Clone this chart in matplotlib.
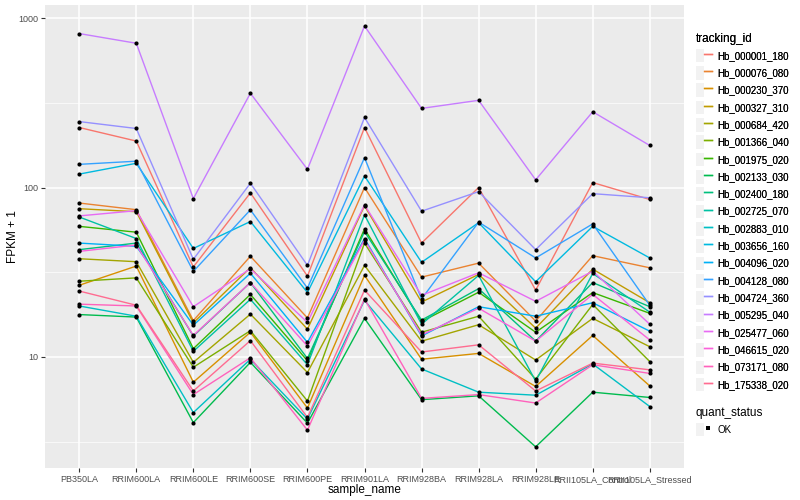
import numpy as np
import pandas as pd
import matplotlib
matplotlib.use('Agg')
import matplotlib.pyplot as plt
from matplotlib.lines import Line2D
from matplotlib.patches import Rectangle
from matplotlib.legend_handler import HandlerTuple

plt.rcParams['font.family'] = ['Liberation Sans', 'DejaVu Sans']

samples = ['PB350LA', 'RRIM600LA', 'RRIM600LE', 'RRIM600SE', 'RRIM600PE', 'RRIM901LA',
           'RRIM928BA', 'RRIM928LA', 'RRIM928LE', 'RRII105LA_Control', 'RRII105LA_Stressed']

tracking_ids = ['Hb_000001_180', 'Hb_000076_080', 'Hb_000230_370', 'Hb_000327_310', 'Hb_000684_420',
                'Hb_001366_040', 'Hb_001975_020', 'Hb_002133_030', 'Hb_002400_180', 'Hb_002725_070',
                'Hb_002883_010', 'Hb_003656_160', 'Hb_004096_020', 'Hb_004128_080', 'Hb_004724_360',
                'Hb_005295_040', 'Hb_025477_060', 'Hb_046615_020', 'Hb_073171_080', 'Hb_175338_020']

# ggplot hue palette for 20 levels
id_colors = ['#F8766D', '#EA8331', '#D89000', '#C09B00', '#A3A500', '#7CAE00', '#39B600', '#00BB4E',
             '#00BF7D', '#00C1A3', '#00BFC4', '#00BAE0', '#00B0F6', '#35A2FF', '#9590FF', '#C77CFF',
             '#E76BF3', '#FA62DB', '#FF62BC', '#FF6C91']

# FPKM + 1 per sample, in tracking_ids order
pb350la = [226, 81, 26.5, 75, 38, 28, 59, 17.8, 43, 67, 20.0, 120, 47, 137, 245, 810, 68, 42, 20.5, 24.5]
rrim600la = [188, 74, 34.4, 72, 36.5, 29.3, 54.5, 17.2, 47, 50, 17.4, 139, 45, 143, 223, 710, 73, 45.8, 20.0, 20.2]
rrim600le = [34, 16.4, 7.1, 15.9, 9.3, 8.7, 11.2, 4.1, 13.3, 10.8, 4.7, 43.7, 15.4, 32, 37.7, 86, 19.8, 13.4, 6.0, 6.3]
rrim600se = [93, 39.3, 14.0, 33.7, 17.9, 14.3, 23.4, 9.3, 27.5, 21.9, 9.7, 63, 31.2, 73.8, 106, 360, 33.2, 27.5, 9.9, 12.5]
rrim600pe = [30, 17, 5.0, 14.6, 8.1, 5.5, 9.5, 4.07, 9.8, 9.0, 4.3, 24, 12.2, 25.5, 34.7, 128, 16, 11.6, 3.7, 4.4]
rrim901la = [226, 100, 30.3, 78, 34.7, 47, 57, 16.9, 55, 69, 21.6, 117, 50, 150, 259, 898, 79, 49, 22, 24.8]
rrim928ba = [47, 29.6, 9.7, 21.1, 12.4, 14, 16.2, 5.6, 16.5, 15.6, 8.5, 36.2, 13.3, 22, 72.5, 293, 23.1, 13.5, 5.7, 10.7]
rrim928la = [100, 35.8, 10.5, 30.7, 15.5, 17.4, 24.1, 5.9, 25.3, 30.3, 6.2, 62, 19.8, 62.5, 94.6, 327, 31.4, 19.4, 6.0, 11.8]
rrim928le = [24.8, 16.3, 6.7, 14.8, 9.6, 7.4, 14.0, 2.95, 12.4, 7.2, 5.95, 27.8, 17.4, 38.4, 43, 111, 21.3, 12.4, 5.35, 6.3]
rrii105la_control = [107, 39.6, 13.4, 33.0, 16.9, 20.4, 24.0, 6.2, 27.5, 31.1, 9.1, 59, 20.9, 61, 92, 280, 32.1, 23.4, 9.0, 9.2]
rrii105la_stressed = [85, 33.6, 6.75, 20.9, 11.5, 9.4, 18.1, 5.77, 19.8, 18.4, 5.1, 38.4, 14.2, 20.2, 87, 177, 15.6, 12.6, 8.0, 8.4]

df = pd.DataFrame({
    'PB350LA': pb350la, 'RRIM600LA': rrim600la, 'RRIM600LE': rrim600le,
    'RRIM600SE': rrim600se, 'RRIM600PE': rrim600pe, 'RRIM901LA': rrim901la,
    'RRIM928BA': rrim928ba, 'RRIM928LA': rrim928la, 'RRIM928LE': rrim928le,
    'RRII105LA_Control': rrii105la_control, 'RRII105LA_Stressed': rrii105la_stressed,
}, index=tracking_ids)[samples]

fig = plt.figure(figsize=(8, 5), dpi=100)
ax = fig.add_axes([45 / 800, 1 - 468 / 500, 639 / 800, 463 / 500])
ax.set_facecolor('#EBEBEB')

x = np.arange(len(samples))
for tid, col in zip(tracking_ids, id_colors):
    ax.plot(x, df.loc[tid].values, color=col, lw=1.0, zorder=3)
for tid in tracking_ids:
    ax.plot(x, df.loc[tid].values, 'o', color='black', ms=3, zorder=4, markeredgewidth=0)

ax.set_yscale('log')
ax.set_ylim(10 ** 0.345, 10 ** 3.077)
ax.set_xlim(-0.6, len(samples) - 0.4)
ax.set_yticks([10, 100, 1000])
ax.set_yticklabels(['10', '100', '1000'])
ax.yaxis.set_minor_locator(matplotlib.ticker.FixedLocator([10 ** 0.5, 10 ** 1.5, 10 ** 2.5]))
ax.yaxis.set_minor_formatter(matplotlib.ticker.NullFormatter())
ax.set_xticks(x)
ax.set_xticklabels(samples)
ax.grid(which='major', color='white', lw=1.1, zorder=0)
ax.grid(which='minor', axis='y', color='white', lw=0.5, zorder=0)
ax.set_axisbelow(True)
for s in ax.spines.values():
    s.set_visible(False)
ax.tick_params(axis='both', which='major', length=3, color='#333333', labelsize=6.5, labelcolor='#4D4D4D', pad=2)
ax.tick_params(axis='y', which='minor', length=0)
ax.set_xlabel('sample_name', fontsize=8.5, labelpad=0)
ax.set_ylabel('FPKM + 1', fontsize=8.5, labelpad=-1)

# legends
leg_kw = dict(loc='upper left', frameon=False, fontsize=7, title_fontsize=8.5,
              handlelength=1.7, handleheight=1.75, labelspacing=0.4,
              handletextpad=0.5, borderaxespad=0, alignment='left',
              handler_map={tuple: HandlerTuple(ndivide=None, pad=0)})
handles = [(Rectangle((0, 0), 1, 1, facecolor='#F2F2F2', edgecolor='none'),
            Line2D([0], [0], color=c, lw=1.0)) for c in id_colors]
leg1 = fig.legend(handles, tracking_ids, title='tracking_id',
                  bbox_to_anchor=(692 / 800, 1 - 29 / 500), **leg_kw)
fig.add_artist(leg1)
h2 = [(Rectangle((0, 0), 1, 1, facecolor='#F2F2F2', edgecolor='none'),
       Line2D([0], [0], marker='s', color='black', ls='none', ms=2.5, markeredgewidth=0))]
fig.legend(h2, ['OK'], title='quant_status',
           bbox_to_anchor=(692 / 800, 1 - 403 / 500), **leg_kw)

fig.savefig('out.png', dpi=100)
